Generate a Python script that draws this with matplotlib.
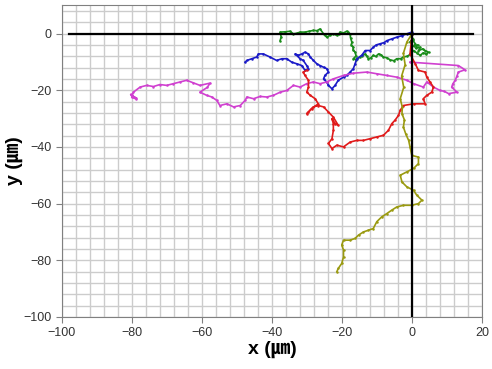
import numpy as np
import matplotlib.pyplot as plt
from matplotlib.ticker import MultipleLocator

plt.rcParams['font.family'] = ['Liberation Sans', 'Noto Sans CJK JP', 'DejaVu Sans']

# cell tracks (x, y in um)
green_x = [0, -0.4, 0.3, -0.6, 0.2, 0.9, 0.4, 1.6, 1.0, 2.3, 1.8, 3.0, 3.7, 4.7, 4.0, 3.2, 2.3, 1.5, 0.4, -0.6,
           -1.4, -2.5, -3.3, -4.4, -5.2, -6.3, -7.1, -8.2, -8.9, -9.6, -10.4, -11.1, -11.8, -12.5, -13.0, -13.4,
           -14.2, -14.9, -15.9, -16.8, -16.0, -16.3, -16.9, -16.8, -17.4, -17.2, -17.6, -17.7, -18.3, -18.7,
           -19.6, -20.6, -21.0, -21.5, -22.5, -23.4, -24.4, -24.9, -25.3, -26.3, -27.2, -28.2, -29.4, -30.6,
           -32.0, -32.9, -33.9, -34.9, -36.2, -37.7, -37.4, -37.7]
green_y = [0, -1.0, -1.8, -3.0, -2.4, -3.6, -4.5, -4.0, -5.2, -4.8, -6.1, -5.4, -6.0, -6.6, -7.3, -6.8, -7.7, -7.0,
           -6.0, -7.4, -8.0, -8.3, -8.9, -8.9, -9.6, -9.3, -8.6, -8.3, -7.5, -7.2, -8.1, -7.7, -8.6, -8.9, -7.9,
           -7.2, -7.8, -8.3, -9.2, -8.9, -7.9, -6.6, -5.7, -4.8, -4.0, -3.1, -1.5, -0.1, 0.4, 0.8, 0.2, 0.5, -0.3,
           -0.7, -0.1, -0.6, -1.3, -0.6, -0.1, 1.6, 1.0, 1.1, 0.8, 0.5, 0.5, 0.1, -0.1, 0.8, 0.6, 0.5, -1.2, -2.5]

blue_x = [0, -0.1, -1.5, -3.0, -4.4, -5.8, -7.2, -8.0, -9.1, -10.2, -11.1, -12.0, -13.4, -14.4, -15.8, -16.3,
          -16.8, -17.7, -18.7, -19.6, -21.1, -22.0, -22.9, -23.9, -24.4, -25.3, -24.9, -23.9, -24.4, -25.3, -26.3,
          -27.2, -28.2, -29.1, -29.6, -30.6, -31.5, -32.5, -33.4, -32.0, -31.1, -30.1, -29.6, -30.6, -31.5, -32.9,
          -34.4, -35.8, -37.2, -38.7, -40.6, -42.5, -43.9, -44.4, -45.8, -47.2, -47.7]
blue_y = [0, 0.5, -0.1, -0.8, -1.3, -1.9, -2.5, -3.2, -3.6, -4.0, -4.8, -6.0, -6.0, -7.7, -8.9, -10.7, -12.4,
          -13.6, -14.8, -15.4, -16.5, -18.3, -19.5, -18.3, -17.1, -16.0, -14.8, -13.6, -12.4, -11.9, -11.3, -10.7,
          -9.5, -8.3, -7.2, -6.6, -7.2, -7.7, -7.2, -8.9, -9.5, -11.3, -12.4, -13.0, -11.3, -10.7, -10.1, -8.9,
          -8.9, -9.5, -8.3, -7.2, -7.2, -8.3, -8.9, -9.5, -10.1]

magenta_x = [-0.6, 13.2, 15.1, 13.2, 12.8, 12.3, 11.6, 11.3, 12.8, 10.4, 9.2, 8.0, 6.1, 4.2, 3.2, 0.4, -1.5, -4.4,
             -7.2, -10.1, -12.9, -16.8, -19.6, -22.5, -24.4, -26.3, -28.2, -30.1, -32.0, -33.9, -35.8, -37.7,
             -39.6, -41.5, -43.4, -45.3, -47.2, -47.7, -49.1, -51.0, -52.9, -54.9, -55.8, -57.2, -58.7, -60.6,
             -58.5, -57.7, -60.6, -62.5, -64.4, -66.3, -68.2, -70.1, -72.0, -73.9, -75.8, -77.7, -79.6, -80.1,
             -79.0, -80.4, -78.8, -80.0]
magenta_y = [-10.1, -11.3, -12.8, -13.6, -15.0, -16.5, -17.8, -18.9, -20.7, -21.2, -20.4, -20.1, -18.9, -17.1,
             -18.9, -17.7, -16.5, -15.4, -14.8, -14.2, -13.6, -14.0, -14.8, -16.0, -17.1, -17.7, -17.1, -17.7,
             -18.9, -18.3, -20.1, -20.7, -21.8, -22.4, -22.2, -23.0, -22.4, -23.6, -25.4, -25.9, -24.8, -25.4,
             -23.6, -22.4, -21.8, -20.7, -19.0, -17.5, -18.3, -17.4, -16.5, -17.1, -17.7, -18.3, -18.0, -18.7,
             -18.3, -18.9, -20.7, -22.4, -23.0, -21.5, -22.8, -22.0]

red_x = [0, -0.6, 0.9, 1.8, 3.7, 4.2, 5.1, 6.1, 5.6, 4.2, 3.2, 3.7, 0.4, -2.5, -3.4, -3.9, -4.9, -5.8, -6.8, -8.2,
         -10.1, -12.0, -13.9, -15.8, -17.7, -19.6, -21.5, -22.9, -23.9, -22.9, -22.5, -22.5, -22.9, -22.0, -21.1,
         -22.5, -23.9, -25.3, -26.8, -28.2, -29.6, -30.1, -28.7, -26.8, -27.7, -29.1, -30.1, -29.6, -29.6, -30.6,
         -31.1, -30.1]
red_y = [0, -7.2, -10.7, -13.0, -13.6, -15.4, -17.1, -18.9, -20.7, -21.8, -23.0, -24.8, -24.8, -25.4, -27.1, -28.9,
         -30.6, -31.8, -34.2, -35.9, -36.5, -37.1, -37.7, -37.7, -38.3, -40.0, -39.4, -40.6, -38.8, -37.1, -34.2,
         -31.8, -30.0, -31.8, -32.4, -29.5, -27.7, -25.9, -25.4, -25.9, -27.7, -28.3, -26.5, -24.8, -23.0, -21.8,
         -20.7, -18.9, -16.5, -14.8, -13.6, -13.0]

olive_x = [0, -1.5, -2.5, -2.0, -3.0, -2.4, -3.4, -2.8, -2.9, -2.2, -2.5, -1.8, -1.0, -0.6, -0.1, 1.8, 1.8, 0.4,
           -1.5, -3.4, -2.9, -1.5, 0.4, 1.3, 2.8, 1.8, -0.1, -2.5, -4.4, -5.8, -7.2, -8.7, -10.1, -11.1, -12.5,
           -13.9, -15.3, -16.3, -17.7, -19.6, -20.1, -19.6, -19.6, -20.1, -21.1, -21.5]
olive_y = [0, -3.0, -7.0, -11.0, -15.0, -19.0, -23.0, -26.0, -28.3, -30.5, -33.0, -35.5, -37.7, -40.0, -43.0,
           -43.6, -45.9, -47.6, -48.8, -50.0, -52.4, -54.1, -55.3, -57.0, -58.8, -60.0, -60.6, -60.6, -61.2, -62.3,
           -63.5, -64.7, -66.4, -68.8, -69.4, -70.0, -71.1, -72.3, -72.9, -72.9, -74.6, -76.4, -78.8, -81.1,
           -82.9, -84.0]

# the two black reference lines through the origin
hline_x = [-98, 17.5]
hline_y = [0, 0]
vline_x = [0, 0]
vline_y = [10, -100]

fig = plt.figure(figsize=(4.92, 3.69), dpi=100)
ax = fig.add_axes([0.126, 0.141, 0.854, 0.845])

tracks = [(green_x, green_y, '#1a8c1a'), (blue_x, blue_y, '#1a1ac8'),
          (magenta_x, magenta_y, '#d040d0'), (red_x, red_y, '#e01a1a'),
          (olive_x, olive_y, '#9a9a10')]
for tx, ty, col in tracks:
    ax.plot(tx, ty, color=col, lw=1.2, marker='o', ms=1.8, mew=0, zorder=3)

ax.plot(hline_x, hline_y, color='black', lw=1.6, zorder=4)
ax.plot(vline_x, vline_y, color='black', lw=1.6, zorder=4)

ax.set_xlim(-100, 20)
ax.set_ylim(-100, 10)
ax.xaxis.set_major_locator(MultipleLocator(20))
ax.yaxis.set_ticks(np.arange(-100, 1, 20))
ax.xaxis.set_minor_locator(MultipleLocator(4))
ax.yaxis.set_minor_locator(MultipleLocator(4))
ax.grid(which='both', color='#cccccc', lw=1.0, zorder=0)
ax.set_axisbelow(True)
ax.tick_params(which='major', direction='out', length=4, color='#808080', labelsize=9, labelcolor='#333333')
ax.tick_params(which='minor', length=0)
for sp in ax.spines.values():
    sp.set_color('#808080')

ax.set_xlabel('x (\u339b)', fontsize=14, fontweight='bold', labelpad=1)
ax.set_ylabel('y (\u339b)', fontsize=14, fontweight='bold', labelpad=0)

fig.savefig('out.png', dpi=100)
